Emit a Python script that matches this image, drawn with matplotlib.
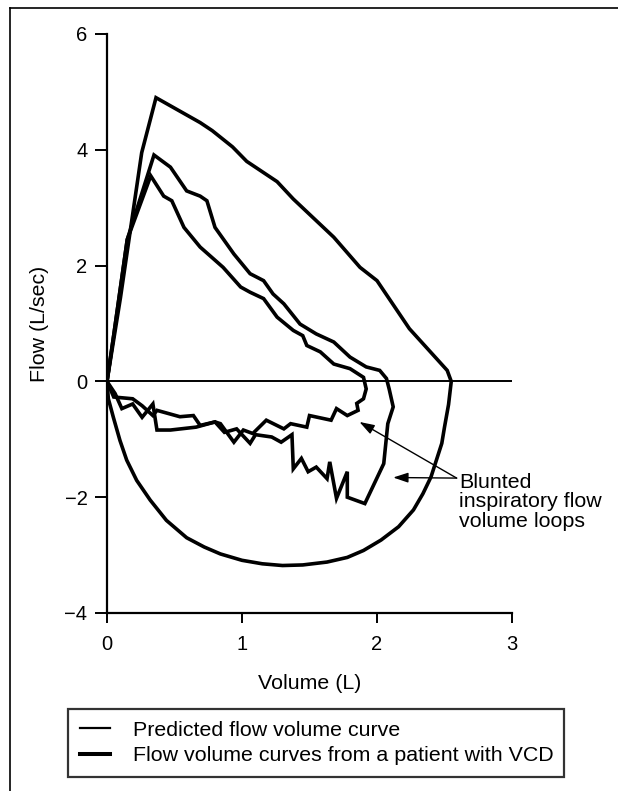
import matplotlib.pyplot as plt
from matplotlib.lines import Line2D

plt.rcParams['font.family'] = ['Liberation Sans', 'DejaVu Sans']

# Predicted flow volume curve: expiration (upper) and inspiration (lower)
pred_exp_vol = [0, 0.10, 0.257, 0.363, 0.69, 0.78, 0.93, 1.035, 1.26, 1.38, 1.68, 1.874, 2.0, 2.24, 2.52, 2.55]
pred_exp_flow = [0, 1.45, 3.95, 4.90, 4.47, 4.33, 4.05, 3.80, 3.45, 3.15, 2.49, 1.97, 1.74, 0.91, 0.19, 0.0]
pred_insp_vol = [2.55, 2.53, 2.50, 2.48, 2.44, 2.40, 2.34, 2.27, 2.16, 2.03, 1.90, 1.78, 1.63, 1.45,
                 1.30, 1.15, 1.00, 0.84, 0.72, 0.59, 0.44, 0.32, 0.22, 0.146, 0.096, 0.047, 0.01, 0]
pred_insp_flow = [0, -0.40, -0.79, -1.07, -1.36, -1.65, -1.94, -2.22, -2.51, -2.74, -2.92, -3.04, -3.12, -3.17,
                  -3.18, -3.15, -3.09, -2.98, -2.86, -2.70, -2.40, -2.05, -1.71, -1.36, -1.02, -0.62, -0.30, 0]

# Patient with VCD, loop A (higher peak, deeper inspiratory limb)
loop_a_exp_vol = [0, 0.05, 0.15, 0.348, 0.47, 0.59, 0.69, 0.74, 0.80, 0.94, 1.06, 1.16, 1.23, 1.31,
                  1.43, 1.55, 1.68, 1.80, 1.92, 2.02, 2.07, 2.09]
loop_a_exp_flow = [0, 0.8, 2.45, 3.91, 3.70, 3.29, 3.20, 3.12, 2.66, 2.20, 1.86, 1.74, 1.51, 1.34,
                   0.99, 0.82, 0.68, 0.42, 0.25, 0.19, 0.05, -0.13]
loop_a_insp_vol = [2.12, 2.08, 2.05, 1.91, 1.78, 1.78, 1.70, 1.65, 1.63, 1.55, 1.49, 1.44, 1.38, 1.37,
                   1.29, 1.22, 1.10, 1.06, 0.96, 0.87, 0.80, 0.69, 0.64, 0.54, 0.37, 0.34, 0.26, 0.19, 0.05, 0]
loop_a_insp_flow = [-0.44, -0.73, -1.42, -2.11, -2.00, -1.56, -2.02, -1.39, -1.68, -1.48, -1.56, -1.33, -1.51, -0.92,
                    -1.05, -0.96, -0.92, -1.07, -0.82, -0.88, -0.70, -0.76, -0.59, -0.61, -0.50, -0.59, -0.42, -0.30, -0.27, 0]

# Patient with VCD, loop B (lower peak)
loop_b_exp_vol = [0, 0.05, 0.15, 0.324, 0.42, 0.48, 0.57, 0.69, 0.86, 0.99, 1.06, 1.16, 1.26, 1.38,
                  1.45, 1.48, 1.58, 1.68, 1.80, 1.90, 1.92]
loop_b_exp_flow = [0, 0.8, 2.45, 3.55, 3.20, 3.12, 2.66, 2.32, 1.97, 1.63, 1.54, 1.43, 1.11, 0.88,
                   0.79, 0.62, 0.51, 0.30, 0.22, 0.07, -0.13]
loop_b_insp_vol = [1.90, 1.85, 1.86, 1.78, 1.70, 1.66, 1.50, 1.48, 1.36, 1.31, 1.18, 1.08, 1.01, 0.94,
                   0.84, 0.80, 0.66, 0.47, 0.37, 0.34, 0.26, 0.19, 0.11, 0.06, 0]
loop_b_insp_flow = [-0.30, -0.38, -0.50, -0.59, -0.47, -0.67, -0.59, -0.79, -0.73, -0.82, -0.67, -0.90, -0.84, -1.05,
                    -0.73, -0.70, -0.79, -0.84, -0.84, -0.39, -0.62, -0.39, -0.47, -0.21, 0]

x_ticks = [0, 1, 2, 3]
y_ticks = [-4, -2, 0, 2, 4, 6]

fig = plt.figure(figsize=(6.18, 7.91), dpi=100)
ax = fig.add_axes([107 / 618, 178 / 791, 405 / 618, 579 / 791])

style = dict(color='black', lw=2.6, solid_joinstyle='miter', solid_capstyle='butt')
ax.plot(pred_exp_vol + pred_insp_vol, pred_exp_flow + pred_insp_flow, **style)
ax.plot(loop_a_exp_vol + loop_a_insp_vol, loop_a_exp_flow + loop_a_insp_flow, **style)
ax.plot(loop_b_exp_vol + loop_b_insp_vol, loop_b_exp_flow + loop_b_insp_flow, **style)

# zero flow line
ax.plot([0, 3], [0, 0], color='black', lw=1.4)

ax.set_xlim(0, 3)
ax.set_ylim(-4, 6)
ax.set_xticks(x_ticks)
ax.set_yticks(y_ticks)
ax.spines['top'].set_visible(False)
ax.spines['right'].set_visible(False)
ax.spines['left'].set_linewidth(1.6)
ax.spines['bottom'].set_linewidth(1.6)
ax.tick_params(axis='y', direction='out', length=8.6, width=1.4, pad=5.5, labelsize=14.5)
ax.tick_params(axis='x', direction='out', length=7, width=1.4, pad=9, labelsize=14.5)

ax.set_xlabel('Volume (L)', fontsize=15.4)
ax.set_ylabel('Flow (L/sec)', fontsize=15.4)
ax.xaxis.set_label_coords(0.5, -0.105)
ax.yaxis.set_label_coords(-0.143, 0.5)

# annotation
arrow = dict(arrowstyle='-|>,head_length=0.45,head_width=0.15', color='black', lw=1.0,
             mutation_scale=20, shrinkA=0, shrinkB=0)
ax.annotate('', xy=(1.87, -0.70), xytext=(2.59, -1.67), arrowprops=arrow)
ax.annotate('', xy=(2.12, -1.66), xytext=(2.59, -1.67), arrowprops=arrow)
ax.text(2.61, -2.08, 'Blunted\ninspiratory flow\nvolume loops', fontsize=15.4,
        ha='left', va='center', linespacing=1.05, clip_on=False)

# legend
handles = [Line2D([], [], color='black', lw=1.6), Line2D([], [], color='black', lw=2.9)]
labels = ['Predicted flow volume curve', 'Flow volume curves from a patient with VCD']
leg = fig.legend(handles, labels, loc='upper left',
                 bbox_to_anchor=(68 / 618, 14 / 791, 496 / 618, 68 / 791), mode='expand',
                 fontsize=15.4, frameon=True, fancybox=False, edgecolor='black',
                 borderaxespad=0, borderpad=0.56, labelspacing=0.3,
                 handlelength=1.4, handletextpad=1.1)
leg.get_frame().set_linewidth(1.6)

# page frame lines from the scanned figure
fig.add_artist(Line2D([10 / 618, 1], [1 - 8 / 791, 1 - 8 / 791], color='black', lw=1.2))
fig.add_artist(Line2D([10 / 618, 10 / 618], [0, 1 - 8 / 791], color='black', lw=1.2))

fig.savefig('out.png', dpi=100)
